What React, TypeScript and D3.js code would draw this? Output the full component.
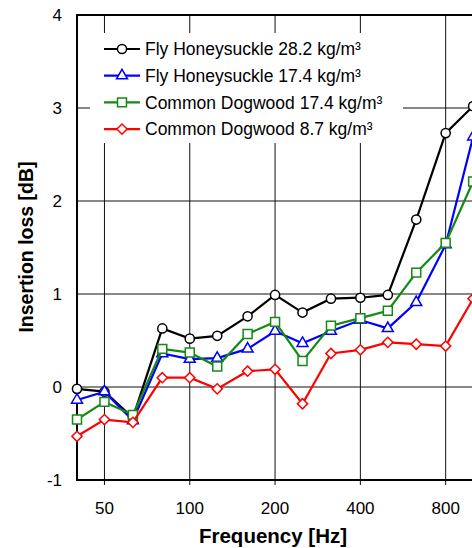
import React, { useEffect, useRef } from 'react';
import * as d3 from 'd3';

// 1/3 octave band centre frequencies (Hz)
const freqs = [40, 50, 63, 80, 100, 125, 160, 200, 250, 315, 400, 500, 630, 800, 1000];

// insertion loss [dB] per series
const flyHoney282 = [-0.02, -0.05, -0.33, 0.63, 0.52, 0.55, 0.76, 0.99, 0.8, 0.95, 0.96, 0.99, 1.8, 2.73, 3.02];
const flyHoney174 = [-0.14, -0.05, -0.36, 0.36, 0.3, 0.31, 0.41, 0.6, 0.47, 0.6, 0.72, 0.63, 0.91, 1.53, 2.69];
const dogwood174 = [-0.35, -0.16, -0.3, 0.41, 0.37, 0.22, 0.57, 0.7, 0.28, 0.66, 0.74, 0.82, 1.23, 1.55, 2.21];
const dogwood87 = [-0.53, -0.35, -0.38, 0.1, 0.1, -0.02, 0.17, 0.19, -0.18, 0.36, 0.4, 0.48, 0.46, 0.44, 0.95];

const seriesNames = [
  'Fly Honeysuckle 28.2 kg/m³',
  'Fly Honeysuckle 17.4 kg/m³',
  'Common Dogwood 17.4 kg/m³',
  'Common Dogwood 8.7 kg/m³',
];

const xTicks = [50, 100, 200, 400, 800];
const yTicks = [-1, 0, 1, 2, 3, 4];

const App = () => {
  const ref = useRef<SVGSVGElement | null>(null);

  useEffect(() => {
    const svg = d3.select(ref.current);
    svg.selectAll('*').remove();

    const W = 472;
    const H = 548;
    const left = 77;
    const top = 15;
    const bottom = 480;
    const octave = 85.3;

    // log axis, plot runs past the right edge of the picture
    const x = d3.scaleLog().domain([40, 1250]).range([left, left + octave * Math.log2(1250 / 40)]);
    const y = d3.scaleLinear().domain([-1, 4]).range([bottom, top]);
    const right = x(1250);

    const font = 'Arial, "Liberation Sans", sans-serif';

    const series = [
      { name: seriesNames[0], values: flyHoney282, color: '#000000', shape: 'circle' },
      { name: seriesNames[1], values: flyHoney174, color: '#0000ff', shape: 'triangle' },
      { name: seriesNames[2], values: dogwood174, color: '#138a13', shape: 'square' },
      { name: seriesNames[3], values: dogwood87, color: '#ff0000', shape: 'diamond' },
    ];

    const symbolFor = (shape: string) => {
      if (shape === 'circle') return d3.symbol().type(d3.symbolCircle).size(66)();
      if (shape === 'triangle') return d3.symbol().type(d3.symbolTriangle).size(52)();
      if (shape === 'square') return d3.symbol().type(d3.symbolSquare).size(80)();
      return d3.symbol().type(d3.symbolSquare).size(52)();
    };

    const g = svg.append('g');

    // grid
    g.selectAll('line.vgrid')
      .data(xTicks)
      .join('line')
      .attr('x1', (d) => x(d))
      .attr('x2', (d) => x(d))
      .attr('y1', top)
      .attr('y2', bottom + 5)
      .attr('stroke', '#111')
      .attr('stroke-width', 1);

    g.selectAll('line.hgrid')
      .data(yTicks.filter((d) => d > -1 && d < 4))
      .join('line')
      .attr('x1', left)
      .attr('x2', right)
      .attr('y1', (d) => y(d))
      .attr('y2', (d) => y(d))
      .attr('stroke', '#111')
      .attr('stroke-width', 1);

    // frame
    g.append('line').attr('x1', left).attr('x2', left).attr('y1', top - 1).attr('y2', bottom + 1)
      .attr('stroke', '#000').attr('stroke-width', 2);
    g.append('line').attr('x1', left).attr('x2', right).attr('y1', bottom).attr('y2', bottom)
      .attr('stroke', '#000').attr('stroke-width', 2);
    g.append('line').attr('x1', left).attr('x2', right).attr('y1', top).attr('y2', top)
      .attr('stroke', '#000').attr('stroke-width', 2);

    // tick labels
    g.selectAll('text.xt')
      .data(xTicks)
      .join('text')
      .attr('x', (d) => x(d))
      .attr('y', 514)
      .attr('text-anchor', 'middle')
      .attr('font-family', font)
      .attr('font-size', 17)
      .attr('fill', '#000')
      .text((d) => d);

    g.selectAll('text.yt')
      .data(yTicks)
      .join('text')
      .attr('x', 62)
      .attr('y', (d) => y(d))
      .attr('dy', '0.35em')
      .attr('text-anchor', 'end')
      .attr('font-family', font)
      .attr('font-size', 17)
      .attr('fill', '#000')
      .text((d) => d);

    // axis titles
    g.append('text')
      .attr('x', 273)
      .attr('y', 543)
      .attr('text-anchor', 'middle')
      .attr('font-family', font)
      .attr('font-size', 20.5)
      .attr('font-weight', 'bold')
      .text('Frequency [Hz]');

    g.append('text')
      .attr('transform', 'translate(33,247) rotate(-90)')
      .attr('text-anchor', 'middle')
      .attr('font-family', font)
      .attr('font-size', 19.5)
      .attr('font-weight', 'bold')
      .text('Insertion loss [dB]');

    // legend (white box hides the grid behind it)
    const legend = g.append('g');
    legend.append('rect').attr('x', 90).attr('y', 33).attr('width', 313).attr('height', 110).attr('fill', '#fff');

    const line = d3.line<number>()
      .x((_, i) => x(freqs[i]))
      .y((d) => y(d));

    series.forEach((s, k) => {
      const sg = g.append('g');
      sg.append('path')
        .datum(s.values)
        .attr('d', line)
        .attr('fill', 'none')
        .attr('stroke', s.color)
        .attr('stroke-width', 2.2);
      sg.selectAll('path.m')
        .data(s.values)
        .join('path')
        .attr('d', symbolFor(s.shape))
        .attr('transform', (d, i) =>
          `translate(${x(freqs[i])},${y(d)})` + (s.shape === 'diamond' ? ' rotate(45)' : ''))
        .attr('fill', '#fff')
        .attr('stroke', s.color)
        .attr('stroke-width', 1.5);

      const ly = 49 + k * 26.7;
      legend.append('line').attr('x1', 104).attr('x2', 140).attr('y1', ly).attr('y2', ly)
        .attr('stroke', s.color).attr('stroke-width', 2.2);
      legend.append('path')
        .attr('d', symbolFor(s.shape))
        .attr('transform', `translate(122,${ly})` + (s.shape === 'diamond' ? ' rotate(45)' : ''))
        .attr('fill', '#fff')
        .attr('stroke', s.color)
        .attr('stroke-width', 1.5);
      legend.append('text')
        .attr('x', 145)
        .attr('y', ly)
        .attr('dy', '0.35em')
        .attr('font-family', font)
        .attr('font-size', 17.5)
        .attr('fill', '#000')
        .text(s.name);
    });

    svg.attr('width', W).attr('height', H);
  }, []);

  return (
    <>
      <style>{'body{margin:0}'}</style>
      <svg ref={ref} width={472} height={548} style={{ display: 'block', background: '#fff' }} />
    </>
  );
};

export default App;
